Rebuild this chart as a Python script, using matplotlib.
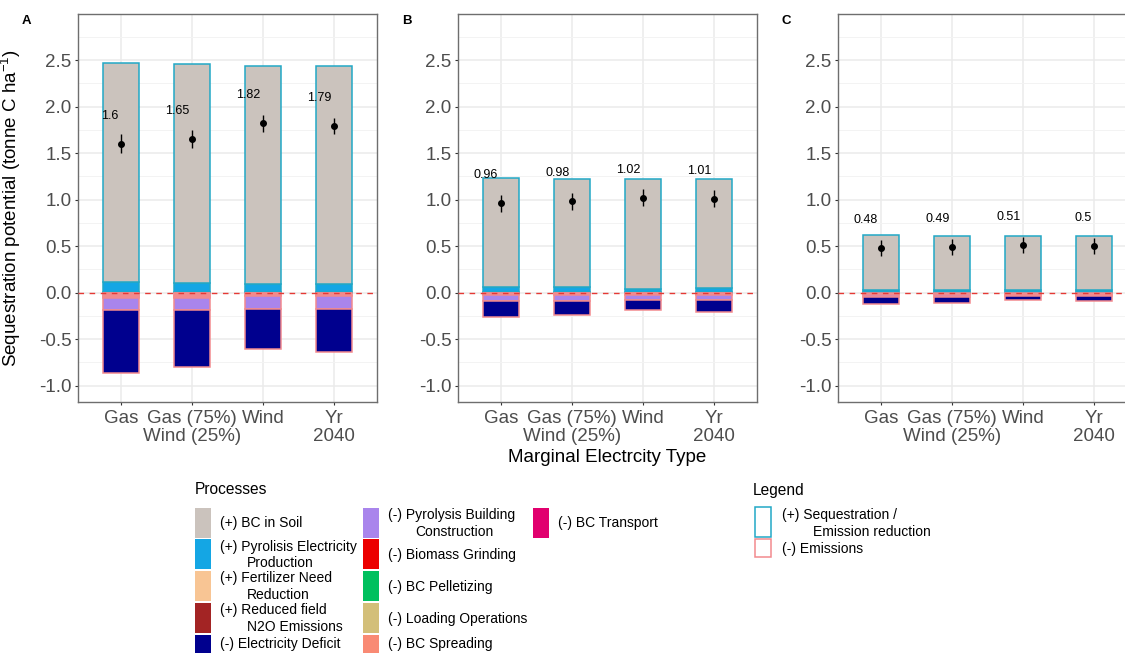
import numpy as np
import matplotlib
matplotlib.use("Agg")
import matplotlib.pyplot as plt
from matplotlib.patches import Rectangle

plt.rcParams['font.family'] = ['Liberation Sans', 'DejaVu Sans']
plt.rcParams['mathtext.fontset'] = 'custom'
plt.rcParams['mathtext.rm'] = 'Liberation Sans'
plt.rcParams['axes.unicode_minus'] = False

W, H = 1125, 653

categories = ["Gas", "Gas (75%)\nWind (25%)", "Wind", "Yr\n2040"]
panels = ["A", "B", "C"]

# positive processes (one row per panel A, B, C)
soil = [[2.353, 2.353, 2.343, 2.348],
        [1.173, 1.170, 1.180, 1.175],
        [0.587, 0.581, 0.586, 0.586]]
elec_prod = [[0.11, 0.10, 0.085, 0.08],
             [0.05, 0.05, 0.035, 0.04],
             [0.027, 0.025, 0.02, 0.02]]
fertilizer = [[0.004] * 4, [0.003] * 4, [0.002] * 4]
n2o = [[0.003] * 4, [0.002] * 4, [0.002] * 4]

# negative processes
elec_deficit = [[-0.67, -0.61, -0.435, -0.465],
                [-0.17, -0.15, -0.11, -0.125],
                [-0.08, -0.07, -0.045, -0.05]]
building = [[-0.13, -0.13, -0.135, -0.135],
            [-0.063, -0.063, -0.053, -0.058],
            [-0.018, -0.018, -0.013, -0.013]]
grinding = [[-0.015, -0.015, -0.005, -0.005], [-0.004] * 4, [-0.003] * 4]
pelletizing = [[-0.01, -0.01, -0.005, -0.005], [-0.003] * 4, [-0.002] * 4]
loading = [[-0.005] * 4, [-0.003] * 4, [-0.002] * 4]
spreading = [[-0.025, -0.025, -0.02, -0.02], [-0.012] * 4, [-0.008] * 4]
transport = [[-0.005] * 4, [-0.005] * 4, [-0.012] * 4]

# net potential with error bars
net = [[1.60, 1.65, 1.82, 1.79],
       [0.96, 0.98, 1.02, 1.01],
       [0.48, 0.49, 0.51, 0.50]]
net_err = [[0.10, 0.10, 0.09, 0.09],
           [0.09] * 4,
           [0.09] * 4]

proc_names = ["(+) BC in Soil", "(+) Pyrolisis Electricity\nProduction",
              "(+) Fertilizer Need\nReduction", "(+) Reduced field\nN2O Emissions",
              "(-) Electricity Deficit", "(-) Pyrolysis Building\nConstruction",
              "(-) Biomass Grinding", "(-) BC Pelletizing", "(-) Loading Operations",
              "(-) BC Spreading", "(-) BC Transport"]
proc_colors = ["#CBC3BD", "#14A6E4", "#F8C594", "#A32424", "#00008E", "#A985EC",
               "#EC0000", "#00C05E", "#D3BF79", "#F98A74", "#E1006E"]
pos_edge = "#22A8C6"
neg_edge = "#F28A8E"

# stacking order away from zero
pos_stack = [(n2o, 3), (fertilizer, 2), (elec_prod, 1), (soil, 0)]
neg_stack = [(transport, 10), (spreading, 9), (loading, 8), (pelletizing, 7),
             (grinding, 6), (building, 5), (elec_deficit, 4)]


def fx(x):
    return x / W


def fy(y):
    return 1 - y / H


fig = plt.figure(figsize=(W / 100, H / 100), dpi=100)
x = np.arange(len(categories))
lefts = [78, 458, 838]

for p in range(3):
    ax = fig.add_axes([fx(lefts[p]), fy(402), 299 / W, 388 / H])
    ax.set_xlim(-0.6, 3.6)
    ax.set_ylim(-1.177, 2.995)

    # grid like theme_bw
    ax.set_yticks(np.arange(-1.0, 2.51, 0.5))
    ax.set_yticks(np.arange(-0.75, 2.8, 0.5), minor=True)
    ax.set_yticklabels([f"{v:.1f}" for v in np.arange(-1.0, 2.51, 0.5)])
    ax.set_xticks(x)
    ax.set_xticklabels(categories)
    ax.grid(True, which='major', color='#EBEBEB', lw=1.1)
    ax.grid(True, which='minor', axis='y', color='#F3F3F3', lw=0.7)
    ax.set_axisbelow(True)
    ax.tick_params(axis='both', which='major', labelsize=13.5, labelcolor='#4D4D4D',
                   color='#333333', length=2.5, width=0.8, pad=2.2)
    ax.tick_params(axis='x', which='major', pad=3.2)
    ax.tick_params(axis='y', which='minor', length=0)
    for t in ax.get_xticklabels():
        t.set_linespacing(1.08)
    for s in ax.spines.values():
        s.set_color('#6E6E6E')
        s.set_linewidth(1.0)

    bottom = np.zeros(4)
    for vals, k in pos_stack:
        v = np.array(vals[p])
        ax.bar(x, v, 0.5, bottom=bottom, color=proc_colors[k], edgecolor=pos_edge, lw=1.1, zorder=2)
        bottom += v
    bottom = np.zeros(4)
    for vals, k in neg_stack:
        v = np.array(vals[p])
        ax.bar(x, v, 0.5, bottom=bottom, color=proc_colors[k], edgecolor=neg_edge, lw=1.1, zorder=2)
        bottom += v

    ax.axhline(0, color='#E53935', lw=1.0, ls=(0, (4, 4)), zorder=3)

    ax.errorbar(x, net[p], yerr=net_err[p], fmt='o', color='black', ms=4,
                elinewidth=1.0, capsize=0, zorder=4)
    for i in range(4):
        ax.text(x[i] - 0.035, net[p][i] + 0.3, f"{net[p][i]:g}", ha='right', va='center',
                fontsize=9, color='black', zorder=5)

    if p == 0:
        ax.set_ylabel("Sequestration potential (tonne C ha$^{-1}$)", fontsize=13.5)
        ax.yaxis.set_label_coords((23 - 78) / 299, 0.5)

    fig.text(fx(lefts[p] - 56), fy(21), panels[p], fontsize=9.5, fontweight='bold',
             ha='left', va='center')

fig.text(fx(607), fy(457), "Marginal Electrcity Type", fontsize=13.5, ha='center', va='center')

# Processes legend (rows with two-line labels are taller)
fig.text(fx(195), fy(490), "Processes", fontsize=11.2, ha='left', va='center')
key_x = [195, 363, 533]
text_x = [220, 388, 558]
row_top = [507.7, 539.3, 571.0, 603.0, 634.7]
row_h = [30, 30, 30, 30, 18]
rows = 5
for k, name in enumerate(proc_names):
    col, row = divmod(k, rows)
    top = row_top[row]
    h = row_h[row]
    fig.patches.append(Rectangle((fx(key_x[col]), fy(top + h)), 16 / W, h / H,
                                 transform=fig.transFigure, facecolor=proc_colors[k],
                                 edgecolor='none'))
    lines = name.split("\n")
    mid = top + h / 2 + 0.5
    if len(lines) == 1:
        fig.text(fx(text_x[col]), fy(mid), lines[0], fontsize=10, ha='left', va='center')
    else:
        fig.text(fx(text_x[col]), fy(mid - 8.3), lines[0], fontsize=10, ha='left', va='center')
        fig.text(fx(text_x[col] + 27), fy(mid + 8.5), lines[1], fontsize=10, ha='left', va='center')

# sign legend
fig.text(fx(753), fy(490), "Legend", fontsize=11.2, ha='left', va='center')
fig.patches.append(Rectangle((fx(755), fy(537)), 16 / W, 30 / H, transform=fig.transFigure,
                             facecolor='white', edgecolor=pos_edge, lw=1.1))
fig.patches.append(Rectangle((fx(755), fy(557)), 16 / W, 18 / H, transform=fig.transFigure,
                             facecolor='white', edgecolor=neg_edge, lw=1.1))
fig.text(fx(782), fy(515), "(+) Sequestration /", fontsize=10, ha='left', va='center')
fig.text(fx(813), fy(532), "Emission reduction", fontsize=10, ha='left', va='center')
fig.text(fx(782), fy(549), "(-) Emissions", fontsize=10, ha='left', va='center')

fig.savefig("out.png", dpi=100)
